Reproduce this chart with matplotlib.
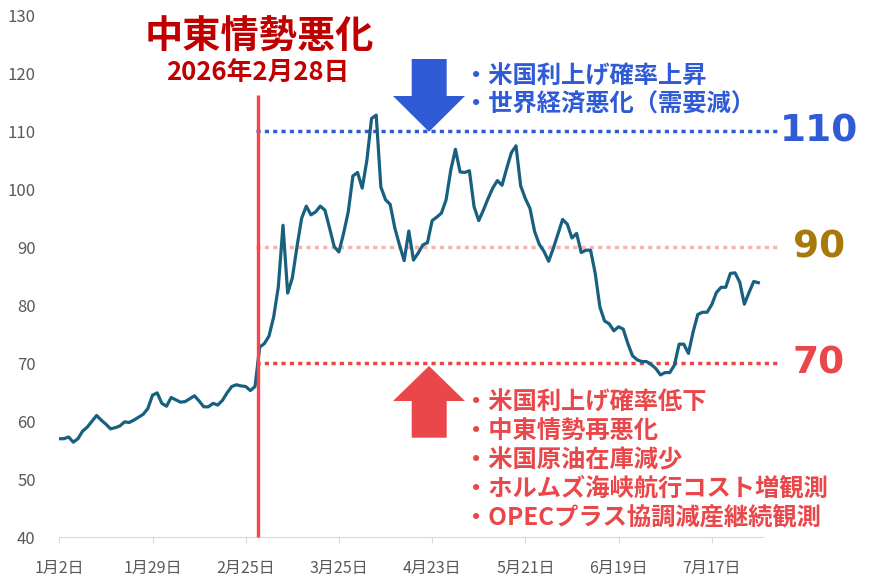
import matplotlib.pyplot as plt
from matplotlib.patches import Polygon

plt.rcParams['font.family'] = ['Noto Sans CJK JP', 'DejaVu Sans']

W, H = 871, 579

# 原油価格（1月2日〜7月下旬、営業日ごと）
prices = [57.0, 57.0, 57.3, 56.4, 57.0, 58.3, 59.0, 60.0, 61.0, 60.2,
          59.5, 58.7, 58.9, 59.2, 59.9, 59.8, 60.2, 60.7, 61.2, 62.2,
          64.5, 64.9, 63.1, 62.6, 64.1, 63.7, 63.3, 63.4, 63.9, 64.4,
          63.5, 62.5, 62.5, 63.1, 62.8, 63.6, 64.9, 66.0, 66.3, 66.1,
          66.0, 65.3, 66.0, 72.8, 73.4, 74.7, 78.0, 83.2, 93.8, 82.1,
          84.7, 90.1, 95.0, 97.1, 95.6, 96.1, 97.1, 96.4, 93.3, 90.1,
          89.2, 92.4, 96.1, 102.3, 102.9, 100.2, 105.0, 112.2, 112.8, 100.4,
          98.2, 97.4, 93.3, 90.4, 87.7, 92.8, 87.8, 89.0, 90.4, 90.8,
          94.6, 95.2, 95.9, 98.2, 103.3, 106.9, 103.0, 102.9, 103.2, 97.0,
          94.6, 96.4, 98.4, 100.2, 101.5, 100.7, 103.6, 106.3, 107.5, 100.6,
          98.4, 96.7, 92.7, 90.5, 89.3, 87.6, 89.8, 92.3, 94.8, 94.0,
          91.6, 92.4, 89.1, 89.5, 89.5, 85.5, 79.7, 77.3, 76.8, 75.6,
          76.3, 75.9, 73.4, 71.3, 70.6, 70.3, 70.3, 69.8, 69.1, 68.0,
          68.4, 68.4, 69.7, 73.3, 73.3, 71.7, 75.4, 78.4, 78.8, 78.8,
          80.1, 82.2, 83.1, 83.1, 85.5, 85.6, 84.0, 80.2, 82.2, 84.1,
          83.9]
tick_every = 20
tick_labels = ['1月2日', '1月29日', '2月25日', '3月25日',
               '4月23日', '5月21日', '6月19日', '7月17日']

event_pos = 42.6  # 2月28日 (2/27 と 3/2 の間)
levels = [110, 90, 70]
level_colors = ['#2F5BD6', '#F5B5B3', '#E9474A']
level_text_colors = ['#2F5BD6', '#A8780A', '#E9474A']

down_reasons = ['米国利上げ確率上昇', '世界経済悪化（需要減）']
up_reasons = ['米国利上げ確率低下', '中東情勢再悪化', '米国原油在庫減少',
              'ホルムズ海峡航行コスト増観測', 'OPECプラス協調減産継続観測']


def px(x, y):
    # pixel -> figure fraction
    return x / W, 1 - y / H


fig = plt.figure(figsize=(W / 100, H / 100), dpi=100)
ax = fig.add_axes([59.3 / W, 1 - 537.3 / H, (763 - 59.3) / W, (537.3 - 15.3) / H])

ax.plot(range(len(prices)), prices, color='#17607F', lw=2.3, zorder=3,
        solid_joinstyle='round')

ax.set_xlim(0, len(prices))
ax.set_ylim(40, 130)
ax.set_yticks(range(40, 131, 10))
ax.set_xticks(range(0, len(tick_labels) * tick_every, tick_every))
ax.set_xticklabels(tick_labels)

for s in ['left', 'top', 'right']:
    ax.spines[s].set_visible(False)
ax.spines['bottom'].set_color('#D9D9D9')
ax.tick_params(axis='y', length=0, pad=17, labelsize=12, labelcolor='#595959')
ax.tick_params(axis='x', length=4.5, color='#D9D9D9', pad=12,
               labelsize=11.5, labelcolor='#595959')

# 中東情勢悪化ライン
ax.vlines(event_pos, 40, 116.2, color='#F8444A', lw=2.4, zorder=4, clip_on=False)

# 水準ライン
x_end = len(prices) + 3
for lv, c, tc in zip(levels, level_colors, level_text_colors):
    ax.hlines(lv, event_pos - 0.4, x_end, color=c, lw=2.5,
              linestyles=(0, (1.2, 1.2)), zorder=2, clip_on=False)
    ax.annotate(str(lv), xy=(1, lv), xycoords=('axes fraction', 'data'),
                xytext=(56, 0), textcoords='offset pixels',
                ha='center', va='center', fontsize=27, fontweight='bold',
                color=tc, family='DejaVu Sans')

# タイトル
fig.text(*px(259, 37), '中東情勢悪化', ha='center', va='center',
         fontsize=27.5, fontweight='bold', color='#C00000')
fig.text(*px(258, 73), '2026年2月28日', ha='center', va='center',
         fontsize=18.5, fontweight='bold', color='#C00000')

# 矢印
down_arrow = [(411.7, 59), (446.7, 59), (446.7, 96), (465, 96), (429, 131.7),
              (393, 96), (411.7, 96)]
up_arrow = [(411.7, 437.7), (446.7, 437.7), (446.7, 401), (465, 401), (429, 366),
            (393, 401), (411.7, 401)]
fig.patches.append(Polygon([px(*p) for p in down_arrow], closed=True,
                           facecolor='#2F5BD6', edgecolor='none',
                           transform=fig.transFigure))
fig.patches.append(Polygon([px(*p) for p in up_arrow], closed=True,
                           facecolor='#E9474A', edgecolor='none',
                           transform=fig.transFigure))

# 要因テキスト
for i, t in enumerate(down_reasons):
    fig.text(*px(463.5, 76.5 + i * 27.7), '・' + t, ha='left', va='center',
             fontsize=17.5, fontweight='bold', color='#2F5BD6')
for i, t in enumerate(up_reasons):
    fig.text(*px(463.5, 402.5 + i * 28.8), '・' + t, ha='left', va='center',
             fontsize=17.5, fontweight='bold', color='#E9474A')

fig.savefig('out.png', dpi=100)
